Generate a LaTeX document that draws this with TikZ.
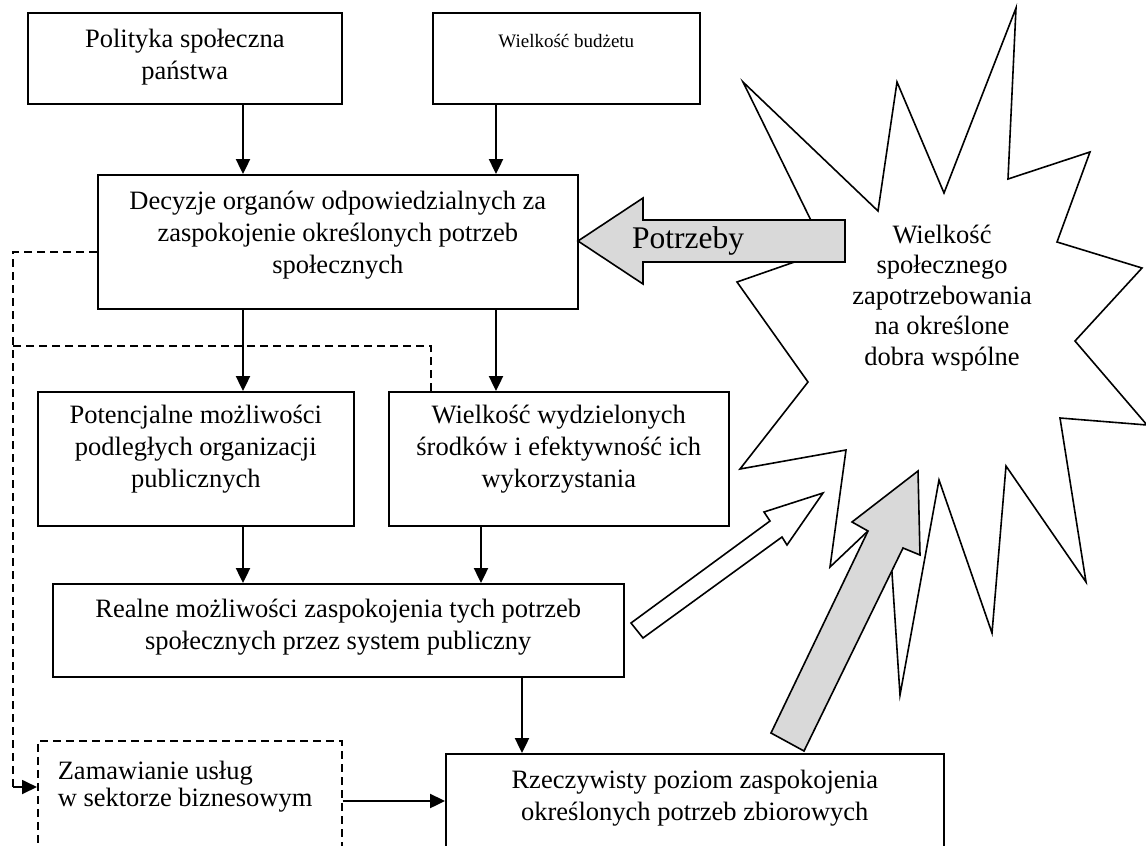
\documentclass[tikz,border=0pt]{standalone}
\usepackage{fontspec}
\setmainfont{Liberation Serif}
\usetikzlibrary{arrows.meta}
\newcommand{\bxt}[4]{\parbox[c][#2pt][t]{#1pt}{\vspace*{#3pt}\centering\strut #4}}
\tikzset{
  box/.style={draw, line width=1.6pt, inner sep=0pt, anchor=north west,
    font=\fontsize{26.5}{32}\selectfont},
  dbox/.style={box, dash pattern=on 8pt off 5pt},
  arr/.style={line width=2.4pt, -{Triangle[length=15pt,width=14pt]}},
  dsh/.style={line width=1.6pt, dash pattern=on 8pt off 5pt},
  blk/.style={draw, line width=1.6pt, line join=miter},
  txt/.style={inner sep=0pt, align=center}
}
\begin{document}
\begin{tikzpicture}[x=1pt,y=-1pt]
\useasboundingbox (0,0) rectangle (1146,846);
\clip (0,0) rectangle (1146,846);

% star (drawn first)
\path[blk, fill=white] (743,82) -- (878,211) -- (897,82) -- (944,193) -- (1016,8)
  -- (1008,179) -- (1090,152) -- (1057,242) -- (1142,268) -- (1075,341)
  -- (1147,425) -- (1060,418) -- (1086,582) -- (1006,466) -- (992,633)
  -- (939,480) -- (900,695) -- (888,512) -- (830,567) -- (846,450)
  -- (740,469) -- (808,382) -- (737,282) -- (826,251) -- cycle;
\node[txt, font=\fontsize{26.5}{30.5}\selectfont] (startext) at (942,298)
  {Wielkość\\społecznego\\zapotrzebowania\\na określone\\dobra wspólne};

% boxes
\node[box] (pol) at (27,12) {\bxt{314}{91}{12.6}{Polityka społeczna\\państwa}};
\node[box, font=\fontsize{19}{24}\selectfont] (bud) at (432,12) {\bxt{267}{91}{17.5}{Wielkość budżetu}};
\node[box] (dec) at (97,174) {\bxt{480}{134}{12.6}{Decyzje organów odpowiedzialnych za\\zaspokojenie określonych potrzeb\\społecznych}};
\node[box] (pot) at (37,391) {\bxt{316}{134}{9.6}{Potencjalne możliwości\\podległych organizacji\\publicznych}};
\node[box] (wie) at (388,391) {\bxt{340}{134}{9.6}{Wielkość wydzielonych\\środków i efektywność ich\\wykorzystania}};
\node[box] (rea) at (52,583) {\bxt{571}{93}{11}{Realne możliwości zaspokojenia tych potrzeb\\społecznych przez system publiczny}};
\node[box] (rze) at (445,753) {\bxt{498}{117}{12.6}{Rzeczywisty poziom zaspokojenia\\określonych potrzeb zbiorowych}};
\node[dbox, font=\fontsize{26.5}{27}\selectfont] (zam) at (37,740)
  {\parbox[c][130pt][t]{304pt}{\vspace*{20pt}\raggedright\leftskip=20pt\strut Zamawianie usług\\w sektorze biznesowym}};

% x positions of connectors
\coordinate (xa) at (243,0);
\coordinate (xb) at (496,0);
\coordinate (xc) at (481,0);
\coordinate (xd) at (522,0);
\coordinate (yz) at (0,801);

\draw[arr] (pol.south -| xa) -- (dec.north -| xa);
\draw[arr] (bud.south -| xb) -- (dec.north -| xb);
\draw[arr] (dec.south -| xa) -- (pot.north -| xa);
\draw[arr] (dec.south -| xb) -- (wie.north -| xb);
\draw[arr] (pot.south -| xa) -- (rea.north -| xa);
\draw[arr] (wie.south -| xc) -- (rea.north -| xc);
\draw[arr] (rea.south -| xd) -- (rze.north -| xd);
\draw[arr] (zam.east |- yz) -- (rze.west |- yz);

% dashed feedback lines
\coordinate (j1) at (13,252);
\coordinate (j2) at (13,346);
\coordinate (w1) at (431,346);
\coordinate (z1) at (13,787);
\draw[dsh] (dec.west |- j1) -- (j1) -- (z1);
\draw[dsh] (wie.north -| w1) -- (w1) -- (j2);
\draw[arr, line width=1.8pt] (z1) -- (zam.west |- z1);

% block arrows
\path[blk, fill=gray!30] (578,241) -- (643,198) -- (643,220) -- (845,220)
  -- (845,262) -- (643,262) -- (643,284) -- cycle;
\node[inner sep=0pt, font=\fontsize{31.5}{34}\selectfont] (potrz) at (688,241) {Potrzeby};
\path[blk, fill=white] (631,623) -- (770,521) -- (764,512) -- (823,493)
  -- (787,545) -- (782,537) -- (643,638) -- cycle;
\path[blk, fill=gray!30] (771,733) -- (868,531) -- (852,522) -- (918,471)
  -- (920,555) -- (903,548) -- (804,751) -- cycle;
\end{tikzpicture}
\end{document}
